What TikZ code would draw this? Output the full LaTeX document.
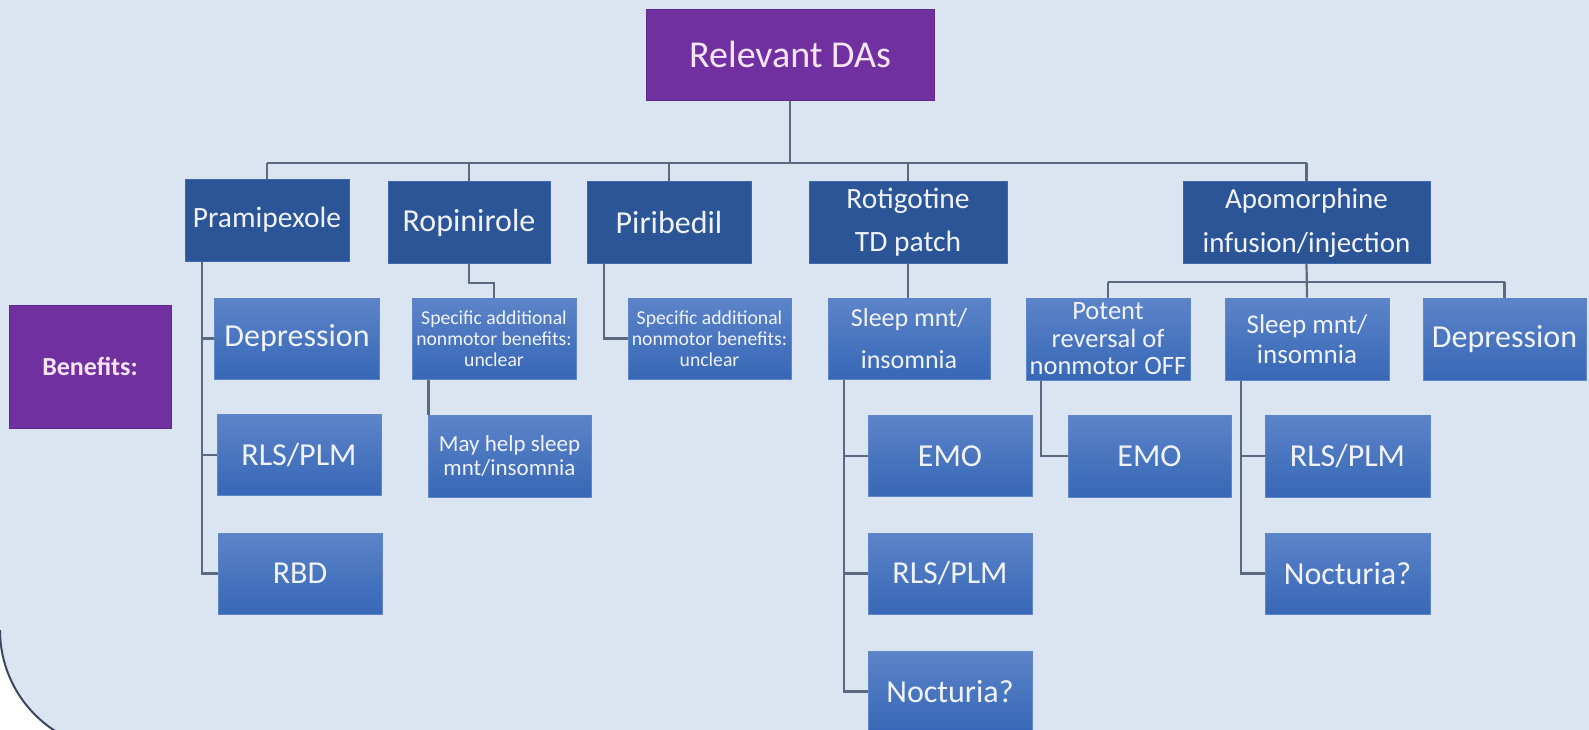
\documentclass[tikz,border=0pt]{standalone}
\usepackage{fontspec}
\setmainfont{Carlito}
\usetikzlibrary{calc}

\definecolor{bgblue}{HTML}{DBE5F1}
\definecolor{darkb}{HTML}{2B5597}
\definecolor{darkedge}{HTML}{3D68AD}
\definecolor{gradtop}{HTML}{5C84C9}
\definecolor{gradbot}{HTML}{3767B6}
\definecolor{gradedge}{HTML}{5F86C6}
\definecolor{purp}{HTML}{7030A0}
\definecolor{purpedge}{HTML}{5E2A8C}
\definecolor{linec}{HTML}{5B6980}
\definecolor{boxtext}{HTML}{F0F3FA}
\definecolor{pinktext}{HTML}{F7E4F7}
\definecolor{framec}{HTML}{3B4660}

\tikzset{
  conn/.style={draw=linec, line width=2.2pt},
  darkbox/.style={rectangle, fill=darkb, draw=darkedge, line width=1pt,
    text=boxtext, inner sep=0pt, align=center, minimum height=82pt},
  gradbox/.style={rectangle, top color=gradtop, bottom color=gradbot,
    draw=gradedge, line width=1pt, text=boxtext, inner sep=0pt,
    align=center, minimum height=81pt},
  purplebox/.style={rectangle, fill=purp, draw=purpedge, line width=1pt,
    text=pinktext, inner sep=0pt, align=center},
  big/.style={font=\fontsize{32}{38}\selectfont},
  small/.style={font=\fontsize{19.7}{21}\selectfont}
}

\begin{document}
\begin{tikzpicture}[x=1pt,y=-1pt]
\useasboundingbox (0,0) rectangle (1589,729);

% panel background with its rounded lower-left corner
\fill[white] (0,0) rectangle (1589,729);
\fill[bgblue] (0,-5) -- (0,630) .. controls (0,696.3) and (53.7,750) .. (120,750)
  -- (1600,750) -- (1600,-5) -- cycle;
\draw[framec, line width=2pt] (0,630) .. controls (0,696.3) and (53.7,750) .. (120,750);

% header and side label
\node[purplebox, minimum width=288, minimum height=91,
  font=\fontsize{38}{46}\selectfont] (top) at (790,54.5) {Relevant DAs};
\node[purplebox, minimum width=162, minimum height=123,
  font=\bfseries\fontsize{26}{30}\selectfont] (ben) at (90,366.5) {Benefits:};

% the five agonists
\node[darkbox, minimum width=164, font=\fontsize{29.5}{36}\selectfont]
  (pram) at (267,220) {Pramipexole};
\node[darkbox, minimum width=162, big] (ropi) at (469,222.5) {Ropinirole};
\node[darkbox, minimum width=164, big] (piri) at (669,222.5) {Piribedil};
\node[darkbox, minimum width=198, font=\fontsize{29.5}{43}\selectfont]
  (roti) at (908,222.5) {Rotigotine\\TD patch};
\node[darkbox, minimum width=247, font=\fontsize{29}{44}\selectfont]
  (apo) at (1306.5,222.5) {Apomorphine\\infusion/injection};

\coordinate (bar) at (0,163);
\draw[conn] (top.south) -- (top.south |- bar);
\draw[conn] (pram.north |- bar) -- (apo.north |- bar);
\foreach \n in {pram,ropi,piri,roti,apo}
  \draw[conn] (\n.north |- bar) -- (\n.north);

% Pramipexole
\node[gradbox, minimum width=165, big] (pdep) at (297,338.5) {Depression};
\node[gradbox, minimum width=164, big] (prls) at (299,455) {RLS/PLM};
\node[gradbox, minimum width=164, big] (prbd) at (300,573.5) {RBD};
\coordinate (ptr) at ([xshift=-65]pram.south);
\draw[conn] (ptr) |- (prbd.west);
\foreach \c in {pdep,prls}
  \draw[conn] (ptr |- \c.west) -- (\c.west);

% Ropinirole
\node[gradbox, minimum width=164, small] (rspec) at (494,338.5)
  {Specific additional\\nonmotor benefits:\\unclear};
\draw[conn] (ropi.south) -- ++(0,19) -| (rspec.north);
\node[gradbox, minimum width=163, minimum height=82,
  font=\fontsize{23}{24}\selectfont] (rmay) at (509.5,456)
  {May help sleep\\mnt/insomnia};
\coordinate (rm) at ([xshift=1]rmay.north west);
\draw[conn] (rm |- rspec.south) -- (rm);

% Piribedil
\node[gradbox, minimum width=163, small] (pspec) at (709.5,338.5)
  {Specific additional\\nonmotor benefits:\\unclear};
\draw[conn] ([xshift=-65]piri.south) |- (pspec.west);

% Rotigotine
\node[gradbox, minimum width=162, font=\fontsize{26}{42}\selectfont]
  (rsleep) at (909,338.5) {Sleep mnt/\\insomnia};
\draw[conn] (roti.south) -- (roti.south |- rsleep.north);
\node[gradbox, minimum width=164, big] (remo) at (950,456) {EMO};
\node[gradbox, minimum width=164, big] (rrls) at (950,573.5) {RLS/PLM};
\node[gradbox, minimum width=164, big] (rnoc) at (950,691.5) {Nocturia?};
\coordinate (rtr) at ([xshift=-65]rsleep.south);
\draw[conn] (rtr) |- (rnoc.west);
\foreach \c in {remo,rrls}
  \draw[conn] (rtr |- \c.west) -- (\c.west);

% Apomorphine
\node[gradbox, minimum width=164, minimum height=82,
  font=\fontsize{26.5}{27.5}\selectfont] (apot) at (1108,339)
  {Potent\\reversal of\\nonmotor OFF};
\node[gradbox, minimum width=164, minimum height=82,
  font=\fontsize{27}{30}\selectfont] (asleep) at (1307,339)
  {Sleep mnt/\\insomnia};
\node[gradbox, minimum width=163, minimum height=82, big]
  (adep) at (1504.5,339) {Depression};
\coordinate (bar2) at (0,282);
\draw[conn] (apo.south) -- (asleep.north);
\draw[conn] (apot.north |- bar2) -- (adep.north |- bar2);
\foreach \n in {apot,adep}
  \draw[conn] (\n.north |- bar2) -- (\n.north);
\node[gradbox, minimum width=163, minimum height=82, big] (aemo) at (1149.5,456) {EMO};
\node[gradbox, minimum width=165, minimum height=82, big] (arls) at (1347.5,456) {RLS/PLM};
\node[gradbox, minimum width=165, big] (anoc) at (1347.5,573.5) {Nocturia?};
\draw[conn] ([xshift=-67]apot.south) |- (aemo.west);
\coordinate (atr) at ([xshift=-66]asleep.south);
\draw[conn] (atr) |- (anoc.west);
\draw[conn] (atr |- arls.west) -- (arls.west);
\end{tikzpicture}
\end{document}
